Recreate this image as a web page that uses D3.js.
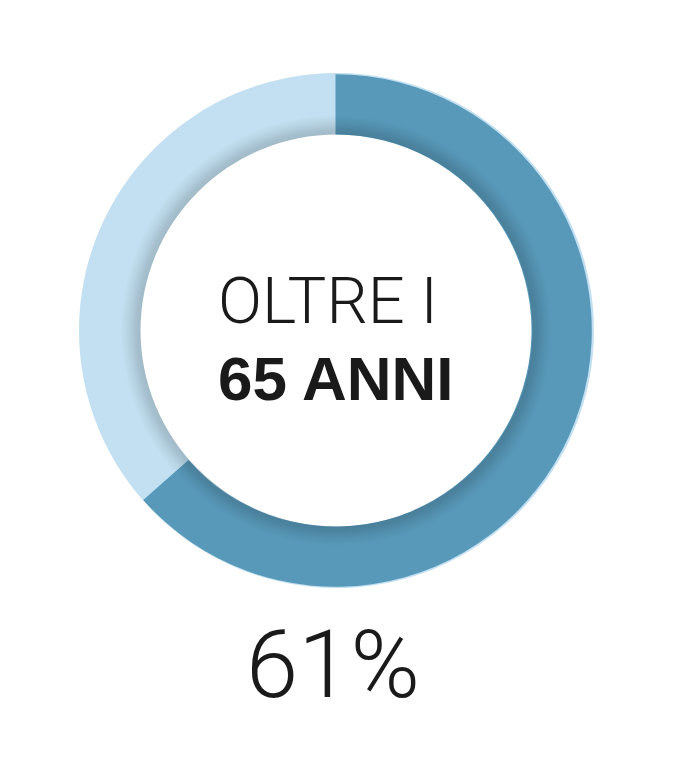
<!DOCTYPE html>
<html>
<head>
<meta charset="utf-8">
<script src="https://cdn.jsdelivr.net/npm/d3@7/dist/d3.min.js"></script>
<style>
  html, body { margin: 0; padding: 0; background: #fff; }
  #chart { width: 674px; height: 776px; }
</style>
</head>
<body>
<div id="chart"></div>
<script>
// ring shares as drawn in the picture (dark part runs a bit past the printed 61%)
const segments = ['oltre 65', 'altri'];
const segmentValues = [63.5, 36.5];
const segmentColors = ['#5899ba', '#c2e0f1'];
const titleLines = ['OLTRE I', '65 ANNI'];
const percentLabel = '61%';

const width = 674, height = 776;
const cx = 336.5, cy = 330.5;
const outerR = 257.5, innerR = 196;

const svg = d3.select('#chart').append('svg')
    .attr('width', width)
    .attr('height', height)
    .attr('viewBox', `0 0 ${width} ${height}`);

// gradient lives in the ring group's own coordinates (centre at 0,0)
const defs = svg.append('defs');
const shade = defs.append('radialGradient')
    .attr('id', 'innerShade')
    .attr('gradientUnits', 'userSpaceOnUse')
    .attr('cx', 0).attr('cy', 0).attr('r', outerR);
[[innerR / outerR, 0.17], [(innerR + 5) / outerR, 0.14], [(innerR + 12) / outerR, 0.06], [(innerR + 20) / outerR, 0]]
    .forEach(([o, a]) => shade.append('stop')
        .attr('offset', o).attr('stop-color', '#000').attr('stop-opacity', a));

const g = svg.append('g').attr('transform', `translate(${cx},${cy})`);

const pie = d3.pie().value(d => d).sort(null);
const arcs = pie(segmentValues);
const full = {startAngle: 0, endAngle: 2 * Math.PI};

// full light ring underneath
g.append('path')
    .attr('d', d3.arc().innerRadius(innerR).outerRadius(outerR)(full))
    .attr('fill', segmentColors[1]);

// dark share
const arcDark = d3.arc().innerRadius(innerR).outerRadius(outerR - 1.2);
g.append('path')
    .datum(arcs[0])
    .attr('d', arcDark)
    .attr('transform', 'translate(-1,0)')
    .attr('fill', segmentColors[0]);

// soft inner shadow along the hole
g.append('path')
    .attr('d', d3.arc().innerRadius(innerR).outerRadius(innerR + 22)(full))
    .attr('fill', 'url(#innerShade)');

// centre title
svg.append('text')
    .attr('x', 218).attr('y', 323)
    .attr('font-family', 'Roboto, "Liberation Sans", sans-serif')
    .attr('font-weight', 300)
    .attr('font-size', 65)
    .attr('fill', '#1a1a1a')
    .text(titleLines[0]);

svg.append('text')
    .attr('x', 218).attr('y', 400)
    .attr('font-family', '"Liberation Sans", Arial, sans-serif')
    .attr('font-weight', 700)
    .attr('font-size', 62)
    .attr('fill', '#1a1a1a')
    .text(titleLines[1]);

svg.append('text')
    .attr('x', 333).attr('y', 697)
    .attr('text-anchor', 'middle')
    .attr('font-family', 'Roboto, "Liberation Sans", sans-serif')
    .attr('font-weight', 300)
    .attr('font-size', 94)
    .attr('fill', '#1a1a1a')
    .text(percentLabel);
</script>
</body>
</html>
